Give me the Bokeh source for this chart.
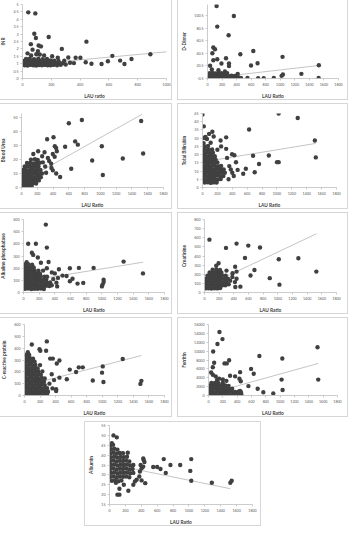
from bokeh.plotting import figure
from bokeh.models import Range1d, FixedTicker, Row, Column
from bokeh.embed import file_html
from bokeh.resources import INLINE

FONT = "Lato"

# ---------------- data ----------------
lau_ticks = [0, 200, 400, 600, 800, 1000, 1200, 1400, 1600, 1800]
inr_x_ticks = [0, 200, 400, 600, 800, 1000]

inr_y_ticks = [0, 0.5, 1, 1.5, 2, 2.5, 3, 3.5, 4, 4.5, 5]
inr_y_text = ["0", "0.5", "1", "1.5", "2", "2.5", "3", "3.5", "4", "4.5", "5"]
inr_pts = [
    (40, 4.47), (89, 4.4), (82, 3.02), (93, 2.74), (182, 2.8), (58, 2.32), (112, 2.23), (128, 2.17),
    (273, 2.0), (444, 2.49), (35, 1.7), (70, 1.95), (96, 1.64), (107, 1.85), (60, 1.55), (150, 1.55),
    (120, 1.62), (206, 1.5), (245, 1.4), (318, 1.42), (369, 1.4), (402, 1.4), (624, 1.53), (888, 1.64),
    (757, 1.32), (678, 1.21), (708, 0.98), (593, 1.17), (549, 0.98), (479, 1.0), (439, 1.1), (357, 1.04),
    (330, 1.06), (300, 0.95), (290, 1.2),
    (15, 0.9), (35, 0.88), (55, 0.92), (75, 0.9), (95, 0.88), (115, 0.91), (135, 0.9), (155, 0.92),
    (175, 0.89), (195, 0.9), (215, 0.92), (240, 0.9), (265, 0.93),
    (10, 1.05), (30, 1.04), (50, 1.06), (70, 1.05), (90, 1.03), (110, 1.06), (130, 1.05), (150, 1.04),
    (170, 1.06), (190, 1.05), (210, 1.04), (230, 1.07), (255, 1.05), (280, 1.03),
    (15, 1.2), (35, 1.21), (55, 1.19), (75, 1.22), (95, 1.2), (115, 1.18), (135, 1.21), (155, 1.2),
    (175, 1.19), (195, 1.22), (220, 1.2), (250, 1.18),
    (25, 1.32), (50, 1.34), (80, 1.31), (110, 1.33), (140, 1.3), (170, 1.32),
]
inr_trend_x = [0, 1520]
inr_trend_y = [0.9, 2.27]

dd_y_ticks = [-0.5, 20.5, 40.5, 60.5, 80.5, 100.5]
dd_y_text = ["-0.5", "20.5", "40.5", "60.5", "80.5", "100.5"]
dd_pts = [
    (125, 116.6), (362, 100.5), (134, 83.3), (290, 69.4), (80, 49.5), (103, 46.8), (67, 40.3), (80, 29),
    (134, 30.7), (254, 32.3), (192, 23.7), (295, 23.7), (295, 19.5), (36, 20), (451, 38.7), (629, 44),
    (688, 24.2), (598, 20.5), (1031, 34.5), (1530, 21), (1290, 7), (1018, 3.8), (1036, 6), (1527, 0.3),
    (911, 0.3), (696, 0), (772, 0), (549, 0.3), (415, 7), (60, 14), (150, 13), (240, 11),
    (20, 0.5), (60, 0.3), (100, 0.6), (140, 0.4), (180, 0.5), (220, 0.3), (260, 0.6), (300, 0.4),
    (340, 0.5), (380, 0.3), (420, 0.6), (460, 0.4),
    (10, 4), (45, 4.2), (85, 3.8), (125, 4.1), (165, 4), (205, 3.9), (245, 4.2), (285, 3.8), (330, 4),
    (375, 3.7), (410, 4.1),
    (30, 8), (70, 8.3), (110, 7.8), (150, 8.1), (190, 8), (230, 7.7), (270, 8.2),
]
dd_trend_x = [0, 1530]
dd_trend_y = [-0.2, 20.5]

bu_y_ticks = [0, 10, 20, 30, 40, 50]
bu_y_text = ["0", "10", "20", "30", "40", "50"]
bu_pts = [
    (600, 46), (765, 48.3), (1517, 47.6), (1542, 24.3), (1284, 20.8), (1018, 29.5), (896, 19.3), (1031, 9),
    (630, 13.4), (680, 33), (714, 30.7), (553, 29.2), (490, 7.5), (406, 36), (325, 34.6), (422, 29.5),
    (439, 28.3), (448, 26), (397, 24), (376, 17), (292, 25.2), (262, 22.4), (211, 26), (334, 21.2),
    (397, 12.3), (312, 10.6), (228, 9.4), (380, 14), (300, 15), (350, 19), (270, 18), (420, 22), (440, 10),
    (150, 24),
    (10, 1), (40, 1.2), (70, 0.8), (100, 1.1), (130, 1.3),
    (5, 3), (35, 3.2), (65, 2.8), (95, 3.1), (125, 3), (155, 3.3), (185, 2.9),
    (10, 5), (40, 5.2), (70, 4.9), (100, 5.1), (130, 5), (160, 5.3), (190, 4.8), (220, 5.1),
    (5, 7.5), (35, 7.6), (65, 7.3), (95, 7.5), (125, 7.7), (155, 7.4), (185, 7.5), (215, 7.6), (245, 7.3),
    (15, 10), (45, 10.2), (75, 9.8), (105, 10.1), (135, 10), (165, 10.3), (195, 9.9), (230, 10.1), (260, 10),
    (20, 12.5), (50, 12.6), (80, 12.3), (110, 12.5), (140, 12.7), (170, 12.4), (200, 12.5), (240, 12.6),
    (40, 15), (75, 15.2), (110, 14.8), (145, 15.1), (180, 15), (215, 15.2),
    (70, 17.5), (110, 17.6), (150, 17.3), (190, 17.5), (230, 17.7),
    (120, 20), (170, 20.2), (205, 19.8),
]
bu_trend_x = [0, 1530]
bu_trend_y = [4, 52.5]

tb_y_ticks = [0, 5, 10, 15, 20, 25, 30, 35, 40, 45]
tb_y_text = ["0", "5", "10", "15", "20", "25", "30", "35", "40", "45"]
tb_pts = [
    (0, 44.4), (18, 37.2), (1023, 45), (1279, 42.3), (626, 35.3), (1509, 28.6), (1522, 18.3), (891, 19.5),
    (679, 19.3), (1001, 15.4), (1023, 15.4), (759, 14.3), (701, 9.3), (582, 11.4), (547, 8.4), (318, 30.5),
    (318, 23.5), (243, 28.6), (397, 20.2), (428, 19.6), (450, 15.4), (472, 10.7), (132, 33.9), (88, 32.6),
    (40, 30.7), (18, 30.1), (60, 29.5), (150, 31), (330, 18), (360, 13), (400, 9), (420, 7), (350, 5),
    (380, 11),
    (30, 3), (70, 3.2), (110, 2.8), (150, 3.1), (190, 3),
    (10, 5), (45, 5.1), (85, 4.9), (125, 5.2), (165, 5), (205, 4.8), (245, 5.1),
    (5, 7), (40, 7.2), (80, 6.9), (120, 7.1), (160, 7), (200, 7.2), (240, 6.8), (280, 7),
    (15, 9), (55, 9.1), (95, 8.9), (135, 9.2), (175, 9), (215, 8.8), (260, 9.1), (300, 9),
    (5, 11), (40, 11.2), (80, 10.9), (120, 11.1), (160, 11), (200, 11.2), (240, 10.8), (285, 11),
    (15, 13), (55, 13.1), (95, 12.9), (135, 13.2), (175, 13), (215, 12.8), (250, 13.1),
    (5, 15), (40, 15.2), (80, 14.9), (120, 15.1), (160, 15), (200, 15.2),
    (15, 17), (55, 17.1), (95, 16.9), (135, 17.2), (175, 17),
    (5, 19), (40, 19.2), (80, 18.9), (120, 19.1), (165, 19),
    (20, 21), (60, 21.2), (100, 20.9), (140, 21.1),
    (10, 23), (50, 23.2), (90, 22.9), (130, 23.1), (200, 23),
    (30, 25), (75, 25.2), (250, 25), (15, 27), (110, 27.2),
]
tb_trend_x = [0, 1520]
tb_trend_y = [15.5, 26.8]

alp_y_ticks = [0, 100, 200, 300, 400, 500, 600]
alp_y_text = ["0", "100", "200", "300", "400", "500", "600"]
alp_pts = [
    (285, 558), (60, 401), (158, 401), (298, 369), (107, 327), (124, 309), (183, 288), (320, 251),
    (222, 244), (298, 199), (592, 199), (707, 202), (895, 202), (1278, 254), (1525, 157), (452, 191),
    (362, 165), (400, 157), (498, 139), (550, 136), (626, 113), (592, 92), (690, 73), (763, 79),
    (1023, 105), (1023, 86), (1010, 65), (1001, 50), (250, 180), (300, 130), (380, 110), (420, 80),
    (430, 50), (360, 60), (440, 120),
    (20, 30), (60, 32), (100, 28), (140, 31), (180, 30), (220, 33), (260, 29),
    (10, 55), (50, 56), (90, 53), (130, 55), (170, 57), (210, 54), (250, 55), (290, 56), (330, 53),
    (20, 80), (60, 82), (100, 78), (140, 81), (180, 80), (220, 83), (260, 79), (300, 80), (340, 82),
    (10, 105), (50, 106), (90, 103), (130, 105), (170, 107), (210, 104), (250, 105), (290, 106),
    (20, 130), (60, 132), (100, 128), (140, 131), (180, 130), (220, 133), (270, 129),
    (10, 155), (50, 156), (90, 153), (130, 155), (170, 157), (210, 154),
    (20, 180), (60, 182), (100, 178), (140, 181), (190, 180),
    (10, 205), (50, 206), (90, 203), (130, 205),
    (20, 230), (60, 232), (110, 228), (40, 250),
]
alp_trend_x = [0, 1525]
alp_trend_y = [90, 249]

cr_y_ticks = [0, 100, 200, 300, 400, 500, 600, 700, 800]
cr_y_text = ["0", "100", "200", "300", "400", "500", "600", "700", "800"]
cr_pts = [
    (67, 579), (293, 489), (437, 536), (597, 514), (757, 493), (552, 379), (1013, 364), (1280, 375),
    (1525, 229), (890, 157), (1022, 86), (628, 186), (681, 246), (489, 64), (418, 282), (192, 321),
    (160, 293), (437, 229), (383, 211), (437, 150), (415, 114), (350, 130), (330, 90), (380, 170),
    (300, 240), (420, 60),
    (15, 45), (55, 47), (95, 43), (135, 46), (175, 45), (215, 48),
    (5, 80), (45, 82), (85, 78), (125, 81), (165, 80), (205, 83), (245, 79), (285, 80),
    (15, 115), (55, 117), (95, 113), (135, 116), (175, 115), (215, 118), (255, 114), (300, 115),
    (25, 150), (65, 152), (105, 148), (145, 151), (185, 150), (225, 153), (270, 149), (320, 150),
    (40, 185), (80, 187), (120, 183), (160, 186), (200, 185), (240, 188), (290, 184),
    (70, 220), (110, 222), (150, 218), (190, 221), (230, 220),
    (110, 250), (160, 252), (210, 248),
]
cr_trend_x = [0, 1525]
cr_trend_y = [63, 643]

crp_y_ticks = [0, 100, 200, 300, 400, 500, 600]
crp_y_text = ["0", "100", "200", "300", "400", "500", "600"]
crp_pts = [
    (287, 457), (94, 431), (193, 391), (203, 378), (278, 378), (43, 365), (1263, 309), (330, 312),
    (364, 312), (449, 296), (415, 270), (698, 238), (749, 238), (582, 219), (663, 198), (1006, 246),
    (997, 193), (878, 127), (1015, 114), (1503, 124), (1490, 98), (544, 137), (449, 151), (407, 37),
    (407, 53), (350, 180), (320, 100), (360, 60), (380, 130), (300, 30),
    (10, 5), (50, 7), (90, 4), (130, 6), (170, 5), (210, 8), (250, 4), (290, 6),
    (20, 33), (60, 35), (100, 31), (140, 34), (180, 33), (220, 36), (260, 32), (300, 34),
    (10, 61), (50, 63), (90, 59), (130, 62), (170, 61), (210, 64), (250, 60), (290, 62),
    (20, 89), (60, 91), (100, 87), (140, 90), (180, 89), (220, 92), (260, 88),
    (10, 117), (50, 119), (90, 115), (130, 118), (170, 117), (210, 120), (250, 116),
    (20, 145), (60, 147), (100, 143), (140, 146), (180, 145), (220, 148), (260, 144),
    (10, 173), (50, 175), (90, 171), (130, 174), (170, 173), (210, 176),
    (20, 201), (60, 203), (100, 199), (140, 202), (180, 201), (230, 204),
    (10, 229), (50, 231), (90, 227), (130, 230), (170, 229),
    (20, 257), (60, 259), (100, 255), (140, 258), (200, 257),
    (10, 285), (50, 287), (90, 283), (130, 286),
    (30, 313), (70, 315), (110, 311), (20, 340), (60, 342),
]
crp_trend_x = [0, 1503]
crp_trend_y = [81, 338]

fer_y_ticks = [0, 2000, 4000, 6000, 8000, 10000, 12000, 14000, 16000]
fer_y_text = ["0", "2000", "4000", "6000", "8000", "10000", "12000", "14000", "16000"]
fer_pts = [
    (153, 14320), (195, 12710), (125, 11610), (65, 9930), (710, 8910), (1030, 8330), (1521, 10880),
    (288, 7960), (223, 7230), (255, 7230), (79, 7380), (60, 6360), (594, 5990), (631, 4890), (441, 5260),
    (371, 4310), (301, 4460), (148, 3800), (1020, 3580), (1531, 3580), (431, 3800), (450, 3210),
    (557, 2120), (686, 1530), (765, 730), (904, 440), (1034, 1240), (441, 1020), (455, 580), (60, 4680),
    (37, 5190), (100, 4300), (200, 3600), (250, 3300), (120, 3500),
    (20, 100), (65, 150), (110, 80), (155, 120), (200, 100), (245, 160), (290, 90), (335, 130),
    (380, 100), (425, 150), (460, 90),
    (10, 800), (55, 850), (100, 770), (145, 820), (190, 800), (235, 860), (280, 780), (325, 820),
    (370, 800), (415, 850), (450, 790),
    (20, 1500), (65, 1550), (110, 1470), (155, 1520), (200, 1500), (245, 1560), (290, 1480), (330, 1520),
    (10, 2200), (55, 2250), (100, 2170), (145, 2220), (190, 2200), (235, 2260), (280, 2180),
    (40, 2800), (90, 2850), (140, 2780), (200, 2820),
]
fer_trend_x = [0, 1531]
fer_trend_y = [356, 7230]

alb_y_ticks = [15, 20, 25, 30, 35, 40, 45, 50, 55]
alb_y_text = ["15", "20", "25", "30", "35", "40", "45", "50", "55"]
alb_pts = [
    (50, 50), (92, 49), (683, 38), (767, 35), (890, 35), (1029, 38), (1017, 32), (1029, 27), (708, 31),
    (642, 33), (550, 34), (600, 34), (1288, 26), (1521, 26), (1538, 27), (100, 20), (125, 20), (125, 23),
    (237, 22), (300, 25), (320, 26.7), (342, 27.5), (375, 29.2), (404, 27.2), (450, 25.8), (425, 38.3),
    (430, 37.5), (440, 36.5), (392, 35), (425, 34.2), (383, 31.7), (404, 33.3), (80, 26), (180, 25),
    (30, 27), (70, 27.2), (110, 26.8), (150, 27.1),
    (10, 29), (50, 29.2), (90, 28.8), (130, 29.1), (170, 29), (210, 29.2), (250, 28.8),
    (20, 31), (60, 31.2), (100, 30.8), (140, 31.1), (180, 31), (220, 31.2), (260, 30.8), (300, 31),
    (10, 33), (50, 33.2), (90, 32.8), (130, 33.1), (170, 33), (210, 33.2), (250, 32.8), (290, 33),
    (20, 35), (60, 35.2), (100, 34.8), (140, 35.1), (180, 35), (220, 35.2), (260, 34.8), (300, 35),
    (10, 37), (50, 37.2), (90, 36.8), (130, 37.1), (170, 37), (210, 37.2), (250, 36.8),
    (20, 39), (60, 39.2), (100, 38.8), (140, 39.1), (180, 39), (220, 39.2),
    (10, 41), (50, 41.2), (90, 40.8), (130, 41.1), (170, 41), (230, 41.2),
    (20, 43), (60, 43.2), (100, 42.8), (15, 45), (45, 45.2), (30, 46),
]
alb_trend_x = [0, 1521]
alb_trend_y = [35.5, 23]


# ---------------- drawing ----------------
def make_panel(pts, trend_x, trend_y, x_end, x_ticks, y_start, y_end, y_ticks, y_text,
               x_title, y_title, outer_w, outer_h, fl, fr, ft, fb, margin):
    p = figure(width=outer_w - 2, height=outer_h - 2,
               x_range=Range1d(0, x_end), y_range=Range1d(y_start, y_end),
               output_backend="svg", toolbar_location=None,
               min_border_left=fl - 1, min_border_right=fr - 1,
               min_border_top=ft - 1, min_border_bottom=fb - 1,
               border_fill_color="white", background_fill_color="white",
               margin=margin)
    p.styles = {"border": "1px solid #d6d6d6"}
    p.outline_line_color = None
    p.grid.visible = False

    p.line(trend_x, trend_y, line_color="#b5b5b5", line_width=0.8)
    xs = [a for a, b in pts]
    ys = [b for a, b in pts]
    p.scatter(xs, ys, marker="circle", size=4.4, fill_color="#404040", line_color=None)

    p.xaxis.ticker = FixedTicker(ticks=x_ticks)
    p.yaxis.ticker = FixedTicker(ticks=y_ticks)
    p.yaxis.major_label_overrides = {t: s for t, s in zip(y_ticks, y_text)}
    p.xaxis.major_label_overrides = {t: str(t) for t in x_ticks}
    p.xaxis.axis_label = x_title
    p.yaxis.axis_label = y_title
    for ax in (p.xaxis[0], p.yaxis[0]):
        ax.axis_line_color = "#bfbfbf"
        ax.axis_line_width = 0.8
        ax.major_tick_line_color = "#bfbfbf"
        ax.major_tick_line_width = 0.8
        ax.major_tick_in = 0
        ax.major_tick_out = 2
        ax.minor_tick_line_color = None
        ax.major_label_text_font = FONT
        ax.major_label_text_font_size = "3.6px"
        ax.major_label_text_color = "#595959"
        ax.major_label_standoff = 2
        ax.axis_label_text_font = FONT
        ax.axis_label_text_font_size = "4.8px"
        ax.axis_label_text_font_style = "bold"
        ax.axis_label_text_color = "#404040"
        ax.axis_label_standoff = 4
    return p


inr = make_panel(inr_pts, inr_trend_x, inr_trend_y, 1000, inr_x_ticks, 0, 5, inr_y_ticks, inr_y_text,
                 "LAU ratio", "INR", 180, 108, 28, 8, 7, 22, (0, 0, 0, 0))
dd = make_panel(dd_pts, dd_trend_x, dd_trend_y, 1800, lau_ticks, -0.5, 119, dd_y_ticks, dd_y_text,
                "LAU Ratio", "D-Dimer", 173, 108, 26, 12, 10, 24, (0, 0, 0, 5))
bu = make_panel(bu_pts, bu_trend_x, bu_trend_y, 1800, lau_ticks, 0, 53, bu_y_ticks, bu_y_text,
                "LAU Ratio", "Blood Urea", 180, 108, 27, 11, 10, 23, (0, 0, 0, 0))
tb = make_panel(tb_pts, tb_trend_x, tb_trend_y, 1800, lau_ticks, 0, 45, tb_y_ticks, tb_y_text,
                "LAU Ratio", "Total Bilirubin", 173, 108, 23, 14, 8, 22, (0, 0, 0, 5))
alp = make_panel(alp_pts, alp_trend_x, alp_trend_y, 1800, lau_ticks, 0, 600, alp_y_ticks, alp_y_text,
                 "LAU Ratio", "Alkaline phosphatase", 180, 104, 29, 10, 6, 22, (0, 0, 0, 0))
cr = make_panel(cr_pts, cr_trend_x, cr_trend_y, 1800, lau_ticks, 0, 800, cr_y_ticks, cr_y_text,
                "LAU Ratio", "Creatinine", 173, 104, 25, 14, 7, 22, (0, 0, 0, 5))
crp = make_panel(crp_pts, crp_trend_x, crp_trend_y, 1800, lau_ticks, 0, 600, crp_y_ticks, crp_y_text,
                 "LAU Ratio", "C-reactive protein", 180, 102, 30, 10, 5, 21, (0, 0, 0, 0))
fer = make_panel(fer_pts, fer_trend_x, fer_trend_y, 1800, lau_ticks, 0, 16000, fer_y_ticks, fer_y_text,
                 "LAU Ratio", "Ferritin", 173, 102, 31, 13, 7, 22, (0, 0, 0, 5))
alb = make_panel(alb_pts, alb_trend_x, alb_trend_y, 1800, lau_ticks, 15, 55, alb_y_ticks, alb_y_text,
                 "LAU Ratio", "Albumin", 179, 107, 24, 11, 4, 24, (0, 0, 0, 90))

root = Column(children=[
    Row(children=[inr, dd]),
    Row(children=[bu, tb], margin=(3, 0, 0, 0)),
    Row(children=[alp, cr], margin=(3, 0, 0, 0)),
    Row(children=[crp, fer], margin=(3, 0, 0, 0)),
    Row(children=[alb], margin=(4, 0, 0, 0)),
], margin=(-6, -8, -6, -6))

open("out.html", "w").write(file_html(root, INLINE))
